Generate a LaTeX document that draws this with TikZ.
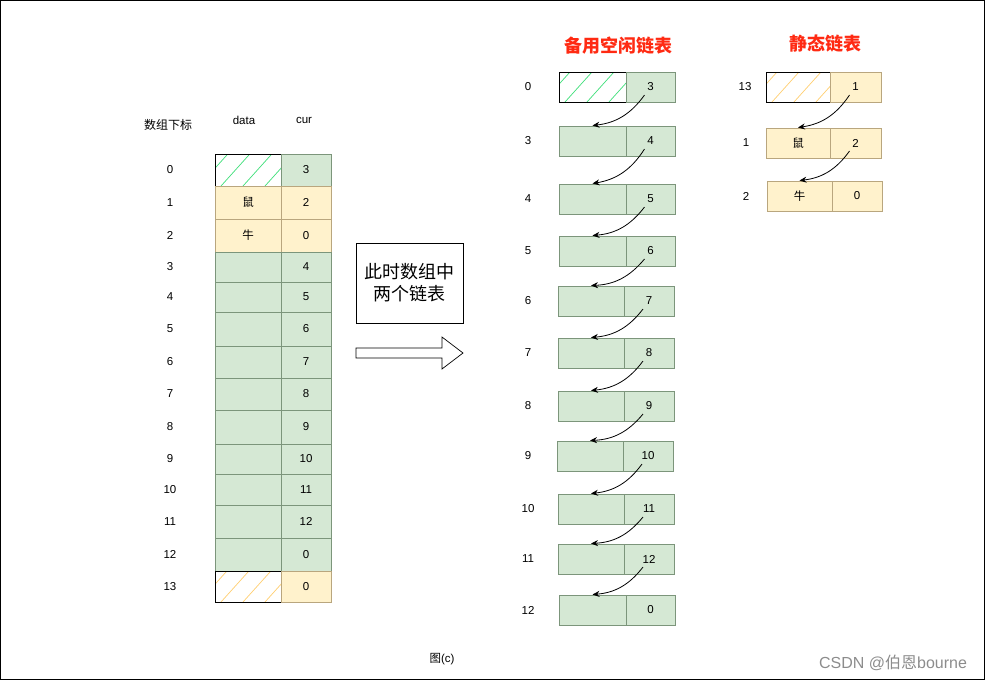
\documentclass[tikz,border=0pt]{standalone}
\usepackage{fontspec}
\setmainfont{Liberation Sans}
\newfontfamily\cjk{Noto Sans CJK SC}
\usetikzlibrary{arrows.meta}
\definecolor{gfill}{HTML}{D5E8D4}
\definecolor{gline}{HTML}{7C957B}
\definecolor{yfill}{HTML}{FFF2CC}
\definecolor{yline}{HTML}{B9A67E}
\definecolor{ghatch}{HTML}{3FE07A}
\definecolor{yhatch}{HTML}{FFCF70}
\definecolor{titlered}{HTML}{FF2A12}
\tikzset{
  cellbase/.style={inner sep=0pt, outer sep=0pt, font=\fontsize{11.5}{13}\selectfont},
  gcell/.style={cellbase, draw=gline, fill=gfill},
  ycell/.style={cellbase, draw=yline, fill=yfill},
  hcell/.style={cellbase, draw=black, fill=white},
  lbl/.style={inner sep=0pt, font=\fontsize{11.5}{13}\selectfont},
  link/.style={draw=black, line width=0.8pt, -{Stealth[length=7pt,width=6pt]}, bend left=24},
  title/.style={inner sep=0pt, text=titlered, font=\cjk\bfseries\fontsize{18}{20}\selectfont}
}
% \mycell{name}{x1}{y1}{x2}{y2}{style}{text}
\newcommand{\mycell}[7]{%
  \node[#6, minimum width={(#4-#2)*1pt}, minimum height={(#5-#3)*1pt}]
    (#1) at ({(#2+#4)/2},{(#3+#5)/2}) {#7};}
% \myhatch{name}{color}
\newcommand{\myhatch}[2]{%
  \begin{scope}
    \clip (#1.south west) rectangle (#1.north east);
    \foreach \k in {-60,-38,...,100}{
      \draw[#2, line width=0.7pt] ([xshift=\k pt]#1.south west) -- ++(36pt,40pt);
    }
  \end{scope}
  \draw[black, line width=0.8pt] (#1.south west) rectangle (#1.north east);}
\begin{document}
\begin{tikzpicture}[x=1pt,y=-1pt]
\useasboundingbox (0,0) rectangle (986,681);
\draw[black, line width=1.2pt] (0.6,0.6) rectangle (984.4,679.6);

% ---------- left table ----------
\node[lbl, font=\cjk\fontsize{12}{14}\selectfont] (hidx) at (168,125) {数组下标};
\node[lbl] (hdata) at (244,120) {data};
\node[lbl] (hcur) at (304,120) {cur};

\mycell{T0d}{215}{154}{281}{186}{hcell}{}
\myhatch{T0d}{ghatch}
\mycell{T0c}{281}{154}{331}{186}{gcell}{3}
\mycell{T1d}{215}{186}{281}{219}{ycell}{\cjk 鼠}
\mycell{T1c}{281}{186}{331}{219}{ycell}{2}
\mycell{T2d}{215}{219}{281}{252}{ycell}{\cjk 牛}
\mycell{T2c}{281}{219}{331}{252}{ycell}{0}
\foreach \r/\a/\b/\v in {3/252/282/4, 4/282/312/5, 5/312/346/6, 6/346/378/7,
  7/378/410/8, 8/410/444/9, 9/444/474/10, 10/474/505/11, 11/505/538/12, 12/538/571/0}{
  \mycell{T\r d}{215}{\a}{281}{\b}{gcell}{}
  \mycell{T\r c}{281}{\a}{331}{\b}{gcell}{\v}
}
\mycell{T13d}{215}{571}{281}{602}{hcell}{}
\myhatch{T13d}{yhatch}
\mycell{T13c}{281}{571}{331}{602}{ycell}{0}
\foreach \r in {0,...,13}{
  \node[lbl] (TL\r) at (170,0 |- T\r c.center) {\r};
}

% ---------- middle box and arrow ----------
\node[draw=black, line width=0.8pt, minimum width=107pt, minimum height=80pt, inner sep=0pt,
  align=center, font=\cjk\fontsize{18}{22}\selectfont] (note) at (409.5,283) {此时数组中\\两个链表};
\draw[black, line width=0.7pt, fill=white]
  (356,348) -- (442,348) -- (442,337) -- (463,353) -- (442,369) -- (442,358) -- (356,358) -- cycle;

% ---------- free list ----------
\node[title] (t1) at (618,46) {备用空闲链表};
\mycell{M0d}{559}{72}{626}{102}{hcell}{}
\myhatch{M0d}{ghatch}
\mycell{M0c}{626}{72}{675}{102}{gcell}{3}
\foreach \r/\a/\x/\m/\v in {3/126/559/626/4, 4/184/559/626/5, 5/236/559/626/6, 6/286/558/624/7,
  7/338/558/624/8, 8/391/558/624/9, 9/441/557/623/10, 10/494/558/624/11,
  11/544/558/624/12, 12/595/559/626/0}{
  \mycell{M\r d}{\x}{\a}{\m}{\a+30}{gcell}{}
  \mycell{M\r c}{\m}{\a}{\x+116}{\a+30}{gcell}{\v}
}
\foreach \r in {0,3,4,5,6,7,8,9,10,11,12}{
  \node[lbl] (ML\r) at (528,0 |- M\r c.center) {\r};
}
\foreach \p/\q in {0/3,3/4,4/5,5/6,6/7,7/8,8/9,9/10,10/11,11/12}{
  \draw[link] ([xshift=-6pt,yshift=-8pt]M\p c.center) to ([yshift=0.5pt]M\q d.north);
}

% ---------- static list ----------
\node[title] (t2) at (825,44) {静态链表};
\mycell{S13d}{766}{72}{830}{102}{hcell}{}
\myhatch{S13d}{yhatch}
\mycell{S13c}{830}{72}{881}{102}{ycell}{1}
\mycell{S1d}{766}{128}{830}{158}{ycell}{\cjk 鼠}
\mycell{S1c}{830}{128}{881}{158}{ycell}{2}
\mycell{S2d}{767}{181}{832}{211}{ycell}{\cjk 牛}
\mycell{S2c}{832}{181}{882}{211}{ycell}{0}
\node[lbl] (SL13) at (745,0 |- S13c.center) {13};
\node[lbl] (SL1) at (746,0 |- S1c.center) {1};
\node[lbl] (SL2) at (746,0 |- S2c.center) {2};
\draw[link] ([xshift=-6pt,yshift=-8pt]S13c.center) to ([yshift=0.5pt]S1d.north);
\draw[link] ([xshift=-6pt,yshift=-8pt]S1c.center) to ([yshift=0.5pt]S2d.north);

% ---------- captions ----------
\node[lbl, font=\fontsize{11.5}{13}\selectfont] (cap) at (442,659) {{\cjk 图}(c)};
\node[lbl, text=black!45, font=\fontsize{16}{18}\selectfont] (wm) at (893,663) {CSDN @{\cjk 伯恩}bourne};
\end{tikzpicture}
\end{document}
